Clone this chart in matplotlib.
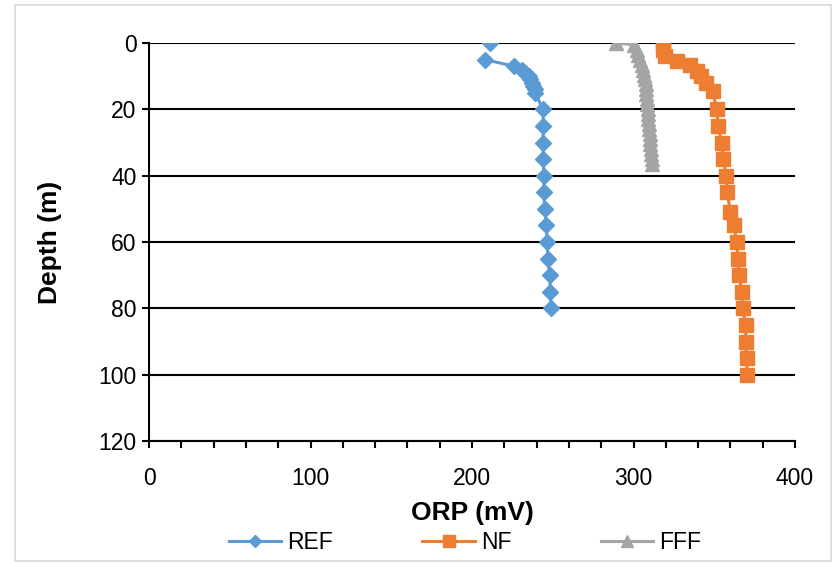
import numpy as np
import matplotlib
matplotlib.use("Agg")
import matplotlib.pyplot as plt
from matplotlib.patches import Rectangle

plt.rcParams['font.family'] = ['Liberation Sans', 'DejaVu Sans']

# Depth profiles of ORP (mV); NaN marks a break in the line
ref_depth = [0, 2.5, 5, 7, 8, 9, 10, 11, 12, 13, 14, 15, 20, 25, 30, 35, 40, 45, 50, 55, 60, 65, 70, 75, 80]
ref_orp = [211, np.nan, 208, 226, 231, 233, 235, 236, 237, 238, 239, 239, 244, 244, 244, 244, 244.5, 244.5,
           245, 246, 246.5, 247, 248, 248.5, 249]

nf_depth = [0, 2, 4, 5.5, 6.5, 8.5, 10, 12, 14.5, 20, 25, 30, 35, 40, 45, 51, 55, 60, 65, 70, 75, 80, 85, 90, 95, 100]
nf_orp = [318, 318, 319.5, 327, 335, 339, 342, 345, 349, 351.5, 352.5, 354.5, 355.5, 357.5, 358, 360, 362,
          364, 364.5, 365.5, 367, 367.5, 369.5, 369.5, 370, 370.5]

fff_depth = [0, 0.5, 2, 3.5, 5, 6.5, 8, 9.5, 11, 12.5, 14, 15.5, 17, 18.5, 20, 21.5, 23, 24.5, 26, 27.5, 29,
             30.5, 32, 33.5, 35, 36.5]
fff_orp = [289, 300, 302, 303, 304, 305, 306, 306.5, 307, 307.5, 308, 308, 308.5, 308.5, 309, 309, 309, 309.5,
           309.5, 310, 310, 310.5, 311, 311, 311.5, 311.5]

fig = plt.figure(figsize=(8.33, 5.63), dpi=100)
ax = fig.add_axes([0.1789, 0.2167, 0.7755, 0.7069])

ax.plot(ref_orp, ref_depth, color='#5B9BD5', lw=2.2, marker='D', ms=8, label='REF', zorder=3)
ax.plot(nf_orp, nf_depth, color='#ED7D31', lw=2.2, marker='s', ms=10, label='NF', zorder=3)
ax.plot(fff_orp, fff_depth, color='#A5A5A5', lw=2.2, marker='^', ms=10, label='FFF', zorder=3)

ax.set_xlim(0, 400)
ax.set_ylim(120, 0)
ax.set_xticks([0, 100, 200, 300, 400])
ax.set_xticks(np.arange(0, 401, 20), minor=True)
ax.set_yticks(np.arange(0, 121, 20))
ax.grid(axis='y', color='black', lw=1.5)
ax.set_axisbelow(True)

for s in ['top', 'right']:
    ax.spines[s].set_visible(False)
for s in ['left', 'bottom']:
    ax.spines[s].set_linewidth(1.5)
    ax.spines[s].set_color('black')

ax.tick_params(axis='both', which='both', direction='out', length=5, width=1.5, labelsize=16.5)
ax.tick_params(axis='x', which='minor', length=5, width=1.5)
ax.tick_params(axis='x', pad=14)
ax.tick_params(axis='y', pad=4)

ax.set_xlabel('ORP (mV)', fontsize=19, fontweight='bold', labelpad=8)
ax.set_ylabel('Depth (m)', fontsize=19, fontweight='bold', labelpad=26)

fig.legend(loc='center', bbox_to_anchor=(0.558, 0.036), ncol=3, frameon=False, fontsize=16.5,
           handlelength=2.3, columnspacing=3.9, handletextpad=0.25, markerscale=0.8)

fig.patches.append(Rectangle((15 / 833, 1 - 561 / 563), (831 - 15) / 833, (561 - 5) / 563,
                             transform=fig.transFigure, fill=False, edgecolor='#D9D9D9', lw=1.2))

fig.savefig('out.png', dpi=100)
